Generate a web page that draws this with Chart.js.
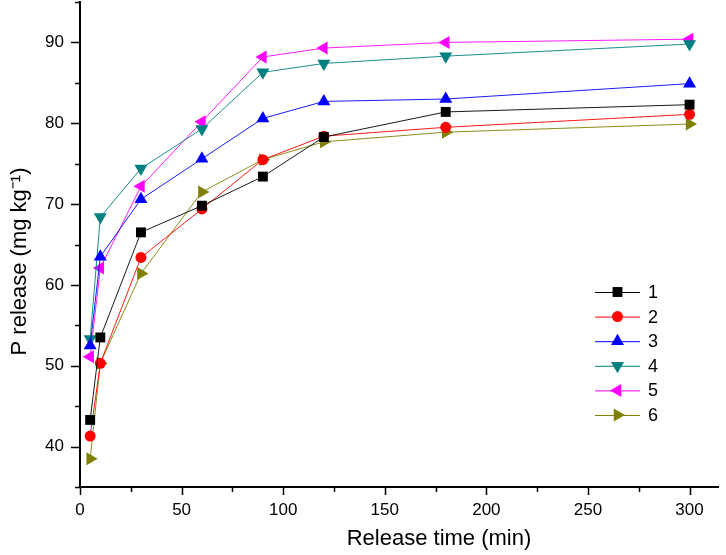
<!DOCTYPE html>
<html>
<head>
<meta charset="utf-8">
<script src="https://cdn.jsdelivr.net/npm/chart.js"></script>
<style>
  html, body { margin: 0; padding: 0; background: #fff; }
  #wrap { width: 726px; height: 555px; position: relative; }
</style>
</head>
<body>
<div id="wrap"><canvas id="myChart"></canvas></div>
<script>
// release time (min) and P release (mg/kg) for the six samples
const tiempos = [5, 10, 30, 60, 90, 120, 180, 300];
const serie1 = [43.3, 53.5, 66.5, 69.8, 73.4, 78.3, 81.4, 82.3];
const serie2 = [41.3, 50.3, 63.4, 69.4, 75.5, 78.4, 79.5, 81.1];
const serie3 = [52.5, 63.5, 70.6, 75.6, 80.6, 82.7, 83.0, 84.9];
const serie4 = [53.3, 68.4, 74.4, 79.3, 86.3, 87.4, 88.3, 89.8];
const serie5 = [51.1, 62.1, 72.2, 80.2, 88.2, 89.3, 90.0, 90.4];
const serie6 = [38.5, 50.3, 61.4, 71.5, 75.5, 77.7, 78.9, 79.9];
const nombres = ['1', '2', '3', '4', '5', '6'];
const xEtiquetas = [0, 50, 100, 150, 200, 250, 300];
const yEtiquetas = [40, 50, 60, 70, 80, 90];

const colores = ['#000000', '#ff0000', '#0000ff', '#008080', '#ff00ff', '#808000'];
const estilos = ['rect', 'circle', 'triangle', 'triangle', 'triangle', 'triangle'];
const rotaciones = [0, 0, 0, 180, 270, 90];
const radios = [7, 5.5, 7.5, 7.5, 7.5, 7.5];

const FONT = "'Liberation Sans', Arial, sans-serif";

const series = [serie1, serie2, serie3, serie4, serie5, serie6];
const datasets = series.map((s, i) => ({
    label: nombres[i],
    data: s.map((v, k) => ({ x: tiempos[k], y: v })),
    borderColor: colores[i],
    backgroundColor: colores[i],
    borderWidth: 0.9,
    pointStyle: estilos[i],
    rotation: rotaciones[i],
    pointRadius: radios[i],
    pointBorderWidth: 0,
    pointBackgroundColor: colores[i],
    tension: 0,
    clip: false
}));

// the titles in the original sit a bit off-centre: shift chart.js's own title drawing
function moverTitulo(scale, dx, dy) {
    if (scale._tituloMovido) return;
    const original = scale.drawTitle;
    scale.drawTitle = function () {
        this.ctx.save();
        this.ctx.translate(dx, dy);
        original.apply(this, arguments);
        this.ctx.restore();
    };
    scale._tituloMovido = true;
}

// major / minor tick marks drawn outward, Origin style
const marcas = {
    id: 'marcas',
    afterDraw(chart) {
        const ctx = chart.ctx;
        const xs = chart.scales.x, ys = chart.scales.y;
        const area = chart.chartArea;
        ctx.save();
        ctx.strokeStyle = '#000';
        ctx.lineWidth = 1.5;
        ctx.beginPath();
        for (let v = 0; v <= xs.max + 0.001; v += 25) {
            const px = Math.round(xs.getPixelForValue(v)) + 0.5;
            const len = (v % 50 === 0) ? 8 : 5;
            ctx.moveTo(px, area.bottom);
            ctx.lineTo(px, area.bottom + len);
        }
        for (let v = ys.min; v <= ys.max + 0.001; v += 5) {
            const py = Math.round(ys.getPixelForValue(v)) + 0.5;
            const len = (v % 10 === 0) ? 9 : 5;
            ctx.moveTo(area.left, py);
            ctx.lineTo(area.left - len, py);
        }
        ctx.stroke();
        ctx.restore();
    }
};

// legend with line through the marker
const leyenda = {
    id: 'leyenda',
    afterDraw(chart) {
        const ctx = chart.ctx;
        const x0 = 595, x1 = 640, y0 = 292, paso = 24.6;
        ctx.save();
        chart.data.datasets.forEach((ds, i) => {
            const y = y0 + i * paso;
            ctx.strokeStyle = ds.borderColor;
            ctx.lineWidth = 1;
            ctx.beginPath();
            ctx.moveTo(x0, y + 0.5);
            ctx.lineTo(x1, y + 0.5);
            ctx.stroke();
            ctx.fillStyle = ds.backgroundColor;
            Chart.helpers.drawPoint(ctx, {
                pointStyle: ds.pointStyle,
                rotation: ds.rotation,
                radius: ds.pointRadius,
                borderWidth: 0
            }, (x0 + x1) / 2, y);
            ctx.fillStyle = '#000';
            ctx.font = '18px ' + FONT;
            ctx.textAlign = 'left';
            ctx.textBaseline = 'middle';
            ctx.fillText(ds.label, 648, y + 1);
        });
        ctx.restore();
    }
};

const ctx = document.getElementById('myChart').getContext('2d');
const myChart = new Chart(ctx, {
    type: 'line',
    data: { datasets: datasets },
    options: {
        responsive: true,
        maintainAspectRatio: false,
        animation: false,
        layout: { autoPadding: false, padding: { left: 0, right: 8, top: 2, bottom: 0 } },
        plugins: {
            legend: { display: false },
            tooltip: { enabled: false }
        },
        scales: {
            x: {
                type: 'linear',
                min: 0,
                max: 314,
                grid: { display: true, drawOnChartArea: false, drawTicks: false },
                border: { display: true, color: '#000', width: 2 },
                afterBuildTicks(scale) {
                    scale.ticks = xEtiquetas.map(v => ({ value: v }));
                },
                ticks: {
                    padding: 13,
                    color: '#000',
                    maxRotation: 0,
                    autoSkip: false,
                    font: { family: FONT, size: 17 }
                },
                title: {
                    display: true,
                    text: 'Release time (min)',
                    color: '#000',
                    font: { family: FONT, size: 22 },
                    padding: { top: 0, bottom: 3 }
                },
                afterFit(scale) {
                    scale.height = 68;
                    scale.paddingLeft = 0; scale.paddingRight = 0;
                    moverTitulo(scale, 40, 0);
                }
            },
            y: {
                type: 'linear',
                min: 35,
                max: 95,
                grid: { display: true, drawOnChartArea: false, drawTicks: false },
                border: { display: true, color: '#000', width: 2 },
                afterBuildTicks(scale) {
                    scale.ticks = yEtiquetas.map(v => ({ value: v }));
                },
                ticks: {
                    padding: 16,
                    color: '#000',
                    autoSkip: false,
                    font: { family: FONT, size: 17 }
                },
                title: {
                    display: true,
                    text: 'P release (mg kg⁻¹)',
                    color: '#000',
                    font: { family: FONT, size: 22 },
                    padding: { top: 7, bottom: 0 }
                },
                afterFit(scale) {
                    scale.width = 80;
                    scale.paddingTop = 0; scale.paddingBottom = 0;
                    moverTitulo(scale, 0, 17);
                }
            }
        }
    },
    plugins: [marcas, leyenda]
});
</script>
</body>
</html>
